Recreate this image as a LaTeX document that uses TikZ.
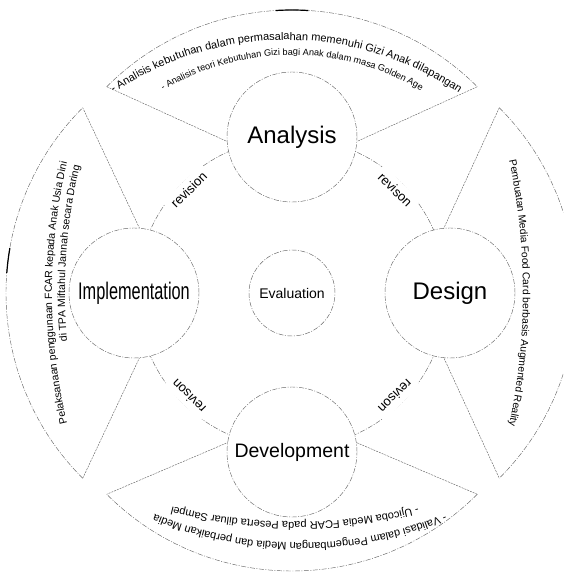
\documentclass[tikz,border=0pt]{standalone}
\usepackage{fontspec}
\setmainfont{Liberation Sans}
\usepackage{graphicx}
\usetikzlibrary{decorations.text}

\colorlet{linegray}{black!60}
\tikzset{
  outline/.style = {draw = linegray, line width = 0.45pt, dash pattern = on 5pt off 1.5pt on 1pt off 1.5pt},
  phase/.style = {outline, circle, fill = white, minimum size = 130pt, inner sep = 0pt, font = \fontsize{24}{24}\selectfont},
  side/.style = {draw = linegray, line width = 0.45pt, dash pattern = on 2pt off 1pt},
  rev/.style = {fill = white, inner sep = 4.5pt, font = \fontsize{13}{13}\selectfont},
  joint/.style = {draw = black, line width = 1.2pt},
}

\begin{document}
\begin{tikzpicture}[x = 1pt, y = 1pt]
\useasboundingbox (-292,-279) rectangle (271,293);
\clip (-292,-279) rectangle (271,293);

% wedges round the cycle
\foreach \a/\n/\off in {90/top/21, 0/right/22, -90/bottom/16, 180/left/24} {
  \coordinate (\n-apex) at (\a:122);
  \coordinate (\n-a) at ([shift = {(\a:\off)}] {\a+45}:262);
  \coordinate (\n-b) at ([shift = {(\a:\off)}] {\a-45}:262);
  \draw[side] (\n-a) -- (\n-apex) -- (\n-b);
  \draw[outline] (\n-a) arc[start angle = \a+45, end angle = \a-45, radius = 262pt];
}
\draw[joint] ([shift = {(0,21)}] 93.6:262) arc[start angle = 93.6, end angle = 86.4, radius = 262pt];
\draw[joint] ([shift = {(-24,0)}] 175.6:262) arc[start angle = 175.6, end angle = 170.1, radius = 262pt];

% revision ring
\draw[outline] (0,0) circle[radius = 155pt];

\node[phase] (analysis) at (90:156) {Analysis};
\node[phase] (design) at (0:158) {Design};
\node[phase] (development) at (-90:159) {\fontsize{19.5}{20}\selectfont Development};
\node[phase] (implementation) at (180:158) {\scalebox{0.68}[1]{Implementation}};
\node[phase, minimum size = 86pt, font = \fontsize{14}{14}\selectfont] (evaluation) at (0,0) {Evaluation};

\foreach \a/\t in {135/revision, 45/revison, 225/revison, 315/revison}
  \node[rev, rotate = \a-90] (rev\a) at (\a:146) {\t};

\begin{scope}[text = black!85]
\path[decorate, decoration = {text along path, text align = center,
  text = {|\fontsize{11}{11}\selectfont|- Analisis kebutuhan dalam permasalahan memenuhi Gizi Anak dilapangan}},
  shift = {(-6,-54)}] (130:307) arc[start angle = 130, end angle = 50, radius = 307pt];
\path[decorate, decoration = {text along path, text align = center,
  text = {|\fontsize{9.2}{9.2}\selectfont|- Analisis teori Kebutuhan Gizi bagi Anak dalam masa Golden Age}},
  shift = {(0,-12)}] (125:250) arc[start angle = 125, end angle = 55, radius = 250pt];
\path[decorate, decoration = {text along path, text align = center,
  text = {|\fontsize{10.3}{10.3}\selectfont|Pembuatan Media Food Card berbasis Augmented Reality}},
  shift = {(-409,0)}] (16:640) arc[start angle = 16, end angle = -16, radius = 640pt];
\path[decorate, decoration = {text along path, text align = center,
  text = {|\fontsize{11}{11}\selectfont|- Validasi dalam Pengembangan Media dan perbaikan Media}},
  shift = {(8,128)}] (296:378) arc[start angle = 296, end angle = 244, radius = 378pt];
\path[decorate, decoration = {text along path, text align = center,
  text = {|\fontsize{11}{11}\selectfont|- Ujicoba Media FCAR pada Peserta diluar Sampel}},
  shift = {(3,267)}] (290:496) arc[start angle = 290, end angle = 250, radius = 496pt];
\path[decorate, decoration = {text along path, text align = center,
  text = {|\fontsize{10.5}{10.5}\selectfont|Pelaksanaan penggunaan FCAR kepada Anak Usia Dini}},
  shift = {(325,0)}] (196:565) arc[start angle = 196, end angle = 164, radius = 565pt];
\path[decorate, decoration = {text along path, text align = right,
  text = {|\fontsize{10.5}{10.5}\selectfont|di TPA Miftahul Jannah secara Daring}},
  shift = {(325,0)}] (200:552) arc[start angle = 200, end angle = 166.7, radius = 552pt];
\end{scope}
\end{tikzpicture}
\end{document}
